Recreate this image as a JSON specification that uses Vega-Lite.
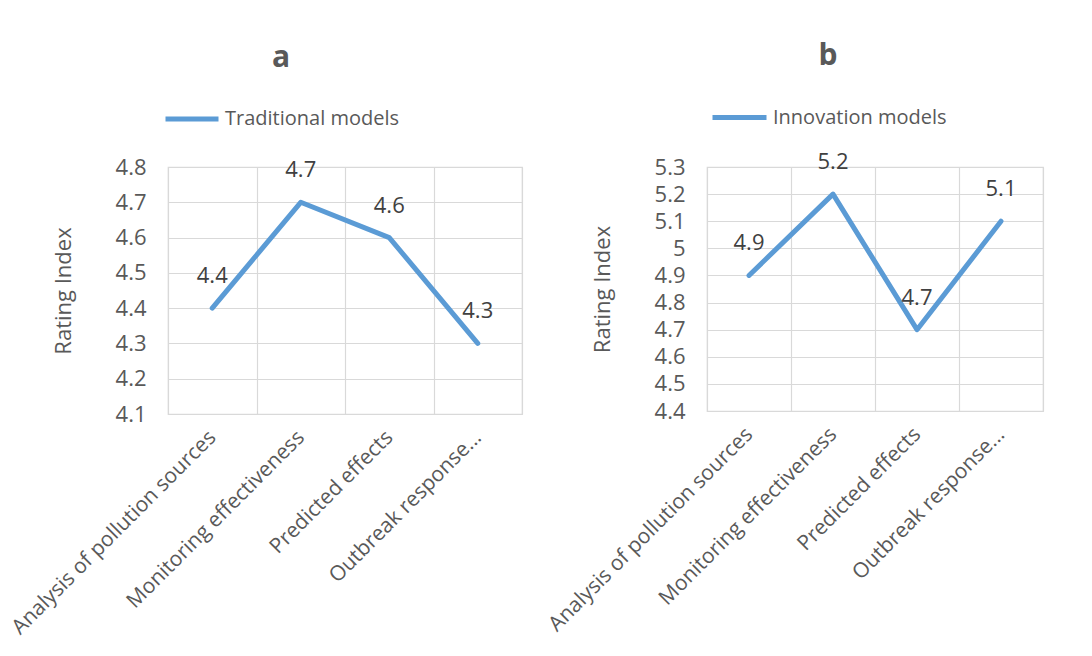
{
  "$schema": "https://vega.github.io/schema/vega-lite/v6.json",
  "background": "white",
  "padding": {"left": 7, "top": 40, "right": 5, "bottom": 5},
  "spacing": 185,
  "bounds": "flush",
  "config": {
    "font": "Open Sans",
    "view": {"stroke": "#D9D9D9", "strokeWidth": 1.2},
    "axis": {
      "domain": false,
      "ticks": false,
      "grid": true,
      "gridColor": "#D9D9D9",
      "gridWidth": 1.2,
      "labelColor": "#595959",
      "labelFont": "Open Sans",
      "titleColor": "#595959",
      "titleFont": "Open Sans",
      "titleFontWeight": "normal"
    },
    "title": {"font": "Open Sans", "color": "#595959", "fontWeight": "bold", "fontSize": 30, "anchor": "middle"},
    "legend": {"labelFont": "Open Sans", "labelColor": "#595959", "labelLimit": 0}
  },
  "datasets": {
    "trad": [
      {"criterion": "Analysis of pollution sources", "rating": 4.4, "model": "Traditional models"},
      {"criterion": "Monitoring effectiveness", "rating": 4.7, "model": "Traditional models"},
      {"criterion": "Predicted effects", "rating": 4.6, "model": "Traditional models"},
      {"criterion": "Outbreak response...", "rating": 4.3, "model": "Traditional models"}
    ],
    "innov": [
      {"criterion": "Analysis of pollution sources", "rating": 4.9, "model": "Innovation models"},
      {"criterion": "Monitoring effectiveness", "rating": 5.2, "model": "Innovation models"},
      {"criterion": "Predicted effects", "rating": 4.7, "model": "Innovation models"},
      {"criterion": "Outbreak response...", "rating": 5.1, "model": "Innovation models"}
    ]
  },
  "resolve": {"scale": {"y": "independent", "x": "independent", "color": "independent"}},
  "hconcat": [
    {
      "width": 354,
      "height": 247,
      "title": {"text": "a", "dx": -64, "offset": 17},
      "data": {"name": "trad"},
      "encoding": {
        "x": {
          "field": "criterion", "type": "nominal", "sort": null,
          "scale": {"type": "band", "paddingInner": 0, "paddingOuter": 0},
          "axis": {"title": null, "labelAngle": -45, "labelBaseline": "middle", "labelFontSize": 21, "labelLimit": 0, "labelPadding": 20, "tickBand": "extent"}
        },
        "y": {
          "field": "rating", "type": "quantitative",
          "scale": {"domain": [4.1, 4.8], "nice": false, "zero": false},
          "axis": {"title": "Rating Index", "titleFontSize": 22, "titlePadding": 40, "labelFontSize": 22, "labelPadding": 22, "values": [4.1, 4.2, 4.3, 4.4, 4.5, 4.6, 4.7, 4.8], "format": "~g"}
        }
      },
      "layer": [
        {
          "mark": {"type": "line", "strokeWidth": 5, "strokeCap": "round", "strokeJoin": "round"},
          "encoding": {
            "color": {
              "field": "model", "type": "nominal",
              "scale": {"range": ["#5B9BD5"]},
              "legend": {"title": null, "orient": "none", "legendX": -5, "legendY": -77, "symbolType": "stroke", "symbolSize": 2809, "symbolStrokeWidth": 5, "labelFontSize": 20, "padding": 0, "labelOffset": 4}
            }
          }
        },
        {
          "mark": {"type": "text", "dy": -32, "fontSize": 22, "color": "#404040"},
          "encoding": {"text": {"field": "rating", "type": "quantitative", "format": "~g"}}
        }
      ]
    },
    {
      "width": 336,
      "height": 244,
      "title": {"text": "b", "dx": -47, "offset": 17},
      "data": {"name": "innov"},
      "encoding": {
        "x": {
          "field": "criterion", "type": "nominal", "sort": null,
          "scale": {"type": "band", "paddingInner": 0, "paddingOuter": 0},
          "axis": {"title": null, "labelAngle": -45, "labelBaseline": "middle", "labelFontSize": 21, "labelLimit": 0, "labelPadding": 20, "tickBand": "extent"}
        },
        "y": {
          "field": "rating", "type": "quantitative",
          "scale": {"domain": [4.4, 5.3], "nice": false, "zero": false},
          "axis": {"title": "Rating Index", "titleFontSize": 22, "titlePadding": 40, "labelFontSize": 22, "labelPadding": 22, "values": [4.4, 4.5, 4.6, 4.7, 4.8, 4.9, 5.0, 5.1, 5.2, 5.3], "format": "~g"}
        }
      },
      "layer": [
        {
          "mark": {"type": "line", "strokeWidth": 5, "strokeCap": "round", "strokeJoin": "round"},
          "encoding": {
            "color": {
              "field": "model", "type": "nominal",
              "scale": {"range": ["#5B9BD5"]},
              "legend": {"title": null, "orient": "none", "legendX": 3, "legendY": -79, "symbolType": "stroke", "symbolSize": 2916, "symbolStrokeWidth": 5, "labelFontSize": 20, "padding": 0, "labelOffset": 4}
            }
          }
        },
        {
          "mark": {"type": "text", "dy": -32, "fontSize": 22, "color": "#404040"},
          "encoding": {"text": {"field": "rating", "type": "quantitative", "format": "~g"}}
        }
      ]
    }
  ]
}
